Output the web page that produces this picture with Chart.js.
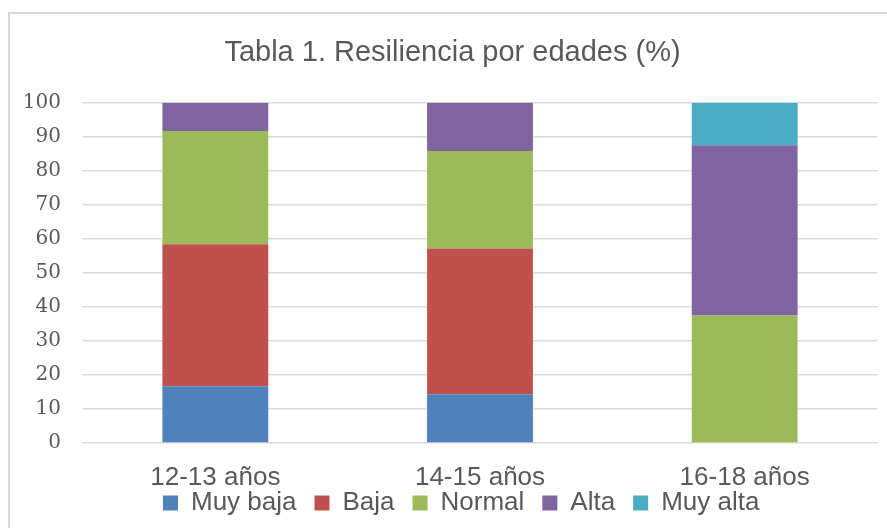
<!DOCTYPE html>
<html>
<head>
<meta charset="utf-8">
<script src="https://cdn.jsdelivr.net/npm/chart.js@4"></script>
<style>
    html, body { margin: 0; padding: 0; background: #fff; overflow: hidden; }
    #wrap { position: relative; width: 887px; height: 528px; }
    #frame {
        position: absolute; left: 8px; top: 12px; width: 920px; height: 600px;
        border: 2px solid #d9d9d9; box-sizing: border-box; pointer-events: none;
    }
</style>
</head>
<body>
<div id="wrap">
    <canvas id="resiliencia-chart" width="887" height="528"></canvas>
    <div id="frame"></div>
</div>
<script>
'use strict';

// Datos (porcentajes)
const categories = ['12-13 años', '14-15 años', '16-18 años'];
const muyBaja = [16.7, 14.3, 0];
const baja = [41.7, 42.9, 0];
const normal = [33.3, 28.6, 37.5];
const alta = [8.3, 14.3, 50];
const muyAlta = [0, 0, 12.5];
const yTicks = [0, 10, 20, 30, 40, 50, 60, 70, 80, 90, 100];

const GRAY = '#595959';
const LEGEND_LEFT = 145; // la leyenda va algo a la derecha del centro
const LEGEND_TOP = 472;  // y se mete bajo las etiquetas del eje x
const TITLE_SHIFT = 14;  // el titulo tampoco esta centrado

// mueve leyenda y titulo, como en la figura
const blockShift = {
    id: 'blockShift',
    afterLayout(chart) {
        const lg = chart.legend;
        const w = lg.right - lg.left;
        lg.left = LEGEND_LEFT;
        lg.right = LEGEND_LEFT + w;
        lg.top = LEGEND_TOP;
        lg.bottom = chart.height; // la leyenda recorta a su caja
        const tb = chart.titleBlock;
        tb.left += TITLE_SHIFT;
        tb.right += TITLE_SHIFT;
    }
};

const ctx = document.getElementById('resiliencia-chart').getContext('2d');

new Chart(ctx, {
    type: 'bar',
    data: {
        labels: categories,
        datasets: [
            { label: 'Muy baja', data: muyBaja, backgroundColor: '#4f81bd' },
            { label: 'Baja', data: baja, backgroundColor: '#c0504d' },
            { label: 'Normal', data: normal, backgroundColor: '#9bbb59' },
            { label: 'Alta', data: alta, backgroundColor: '#8064a2' },
            { label: 'Muy alta', data: muyAlta, backgroundColor: '#4bacc6' }
        ]
    },
    options: {
        responsive: false,
        animation: false,
        layout: { padding: { left: 0, right: 10, top: 0, bottom: 0 } },
        datasets: {
            bar: { categoryPercentage: 1, barPercentage: 0.4 }
        },
        scales: {
            x: {
                stacked: true,
                grid: { display: false, drawTicks: false },
                border: { display: false },
                ticks: {
                    color: GRAY,
                    padding: 19,
                    font: { family: '"Liberation Sans", Arial, sans-serif', size: 26 }
                },
                afterFit: function(scale) { scale.height = 52; }
            },
            y: {
                stacked: true,
                min: 0,
                max: 100,
                afterBuildTicks: function(scale) {
                    scale.ticks = yTicks.map(v => ({ value: v }));
                },
                grid: { color: '#d9d9d9', lineWidth: 1.5, drawTicks: false },
                border: { display: false },
                ticks: {
                    color: GRAY,
                    padding: 22,
                    font: { family: '"DejaVu Serif", serif', size: 20 }
                },
                afterFit: function(scale) { scale.width = 83; }
            }
        },
        plugins: {
            title: {
                display: true,
                text: 'Tabla 1. Resiliencia por edades (%)',
                color: GRAY,
                font: { family: '"Liberation Sans", Arial, sans-serif', size: 29, weight: 'normal' },
                padding: { top: 36, bottom: 32 }
            },
            legend: {
                position: 'bottom',
                align: 'start',
                maxHeight: 33,
                labels: {
                    color: GRAY,
                    boxWidth: 15,
                    boxHeight: 15,
                    padding: 18,
                    font: { family: '"Liberation Sans", Arial, sans-serif', size: 26 }
                }
            },
            tooltip: { enabled: false }
        }
    },
    plugins: [blockShift]
});
</script>
</body>
</html>
